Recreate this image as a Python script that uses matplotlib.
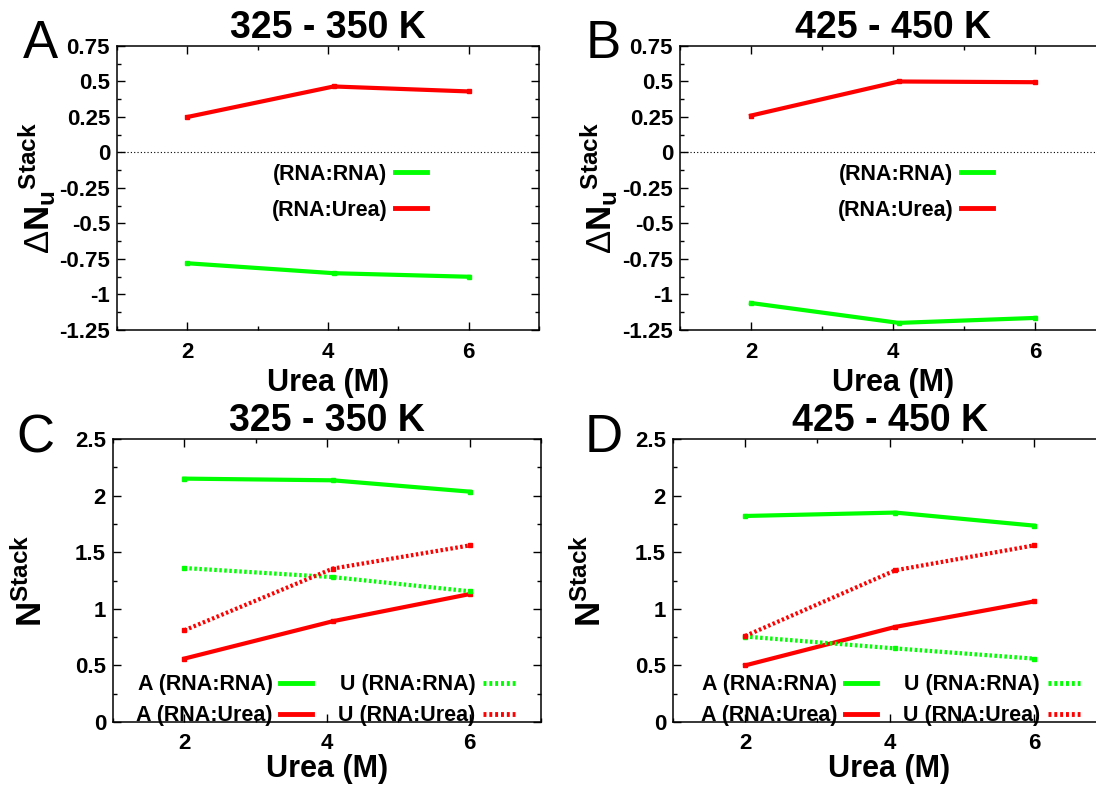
import matplotlib
matplotlib.use("Agg")
import matplotlib.pyplot as plt
from matplotlib.ticker import MultipleLocator

plt.rcParams['font.family'] = ['Liberation Sans', 'DejaVu Sans']
plt.rcParams['font.weight'] = 'bold'
plt.rcParams['axes.labelweight'] = 'bold'
plt.rcParams['axes.titleweight'] = 'bold'
plt.rcParams['mathtext.fontset'] = 'custom'
plt.rcParams['mathtext.rm'] = 'Liberation Sans:weight=normal'
plt.rcParams['mathtext.bf'] = 'Liberation Sans:bold'
plt.rcParams['axes.linewidth'] = 1.1

# Urea concentrations (M)
urea = [2, 4.08, 6]

# Change in stacking number on unfolding
dN_rna_325 = [-0.78, -0.85, -0.875]
dN_urea_325 = [0.25, 0.465, 0.43]
dN_rna_425 = [-1.06, -1.20, -1.165]
dN_urea_425 = [0.26, 0.50, 0.495]

# Stacking numbers per base
A_rna_325 = [2.15, 2.135, 2.035]
A_urea_325 = [0.56, 0.89, 1.13]
U_rna_325 = [1.36, 1.28, 1.155]
U_urea_325 = [0.81, 1.355, 1.56]

A_rna_425 = [1.82, 1.85, 1.735]
A_urea_425 = [0.50, 0.84, 1.065]
U_rna_425 = [0.755, 0.65, 0.56]
U_urea_425 = [0.76, 1.34, 1.56]

titles = ['325 - 350 K', '425 - 450 K']
letters = ['A', 'B', 'C', 'D']

GREEN = '#00ff00'
RED = '#ff0000'
DOT = (0, (0.6, 0.6))

W, H = 1096, 786
fig = plt.figure(figsize=(W / 100, H / 100), dpi=100)


def add_axes(left, right, top, bottom):
    return fig.add_axes([left / W, 1 - bottom / H, (right - left) / W, (bottom - top) / H])


def style(ax, ymajor, yminor, xpad, lpad):
    ax.set_xlim(1, 7)
    ax.xaxis.set_major_locator(MultipleLocator(2))
    ax.xaxis.set_minor_locator(MultipleLocator(1))
    ax.yaxis.set_major_locator(MultipleLocator(ymajor))
    ax.yaxis.set_minor_locator(MultipleLocator(yminor))
    ax.tick_params(which='both', direction='in', top=True, right=True, labelsize=16)
    ax.tick_params(which='major', length=6, width=1)
    ax.tick_params(which='minor', length=3, width=1)
    ax.tick_params(axis='x', pad=xpad)
    ax.tick_params(axis='y', pad=5)
    ax.set_xticks([2, 4, 6])
    ax.set_xticklabels(['2', '4', '6'])
    ax.set_xlabel('Urea (M)', fontsize=22, fontweight='bold', labelpad=lpad)


def fmt(v):
    return f'{v:g}'


def clean_legend(leg):
    # legend samples show plain lines without point markers
    for h in leg.legend_handles:
        h.set_marker('')
        h.set_linewidth(3.5)


axA = add_axes(117, 539, 46, 330)
axB = add_axes(680, 1106, 46, 330)
axC = add_axes(113, 541, 439, 722)
axD = add_axes(673, 1106, 439, 722)

for ax, t, rna, ur in [(axA, titles[0], dN_rna_325, dN_urea_325),
                       (axB, titles[1], dN_rna_425, dN_urea_425)]:
    ax.axhline(0, color='k', lw=0.8, ls=(0, (1, 2)))
    ax.plot(urea, rna, color=GREEN, lw=3, marker='s', ms=3, label='(RNA:RNA)')
    ax.plot(urea, ur, color=RED, lw=3, marker='s', ms=3, label='(RNA:Urea)')
    ax.set_ylim(-1.25, 0.75)
    style(ax, 0.25, 0.125, 9, 3)
    ax.set_yticks([0.75, 0.5, 0.25, 0, -0.25, -0.5, -0.75, -1, -1.25])
    ax.set_yticklabels([fmt(v) for v in ax.get_yticks()])
    ax.set_title(t, fontsize=27, fontweight='bold', pad=2)
    ax.set_ylabel(r'$\Delta\mathbf{{N_u}^{Stack}}$', fontsize=25)
    ax.yaxis.set_label_coords(-0.14, 0.5)
    leg = ax.legend(loc='upper right', bbox_to_anchor=(0.735, 0.585), frameon=False,
                    markerfirst=False, fontsize=15.5, handlelength=1.5, handletextpad=0.35,
                    labelspacing=0.7, borderpad=0, borderaxespad=0)
    clean_legend(leg)

for ax, t, arna, aur, urna, uur in [(axC, titles[0], A_rna_325, A_urea_325, U_rna_325, U_urea_325),
                                    (axD, titles[1], A_rna_425, A_urea_425, U_rna_425, U_urea_425)]:
    l1, = ax.plot(urea, arna, color=GREEN, lw=3, marker='s', ms=3, label='A (RNA:RNA)')
    l2, = ax.plot(urea, aur, color=RED, lw=3, marker='s', ms=3, label='A (RNA:Urea)')
    l3, = ax.plot(urea, urna, color=GREEN, lw=3, ls=DOT, marker='s', ms=3, label='U (RNA:RNA)')
    l4, = ax.plot(urea, uur, color=RED, lw=3, ls=DOT, marker='s', ms=3, label='U (RNA:Urea)')
    ax.set_ylim(0, 2.5)
    style(ax, 0.5, 0.25, 8, 0)
    ax.set_yticks([0, 0.5, 1, 1.5, 2, 2.5])
    ax.set_yticklabels([fmt(v) for v in ax.get_yticks()])
    ax.set_title(t, fontsize=27, fontweight='bold', pad=2)
    ax.set_ylabel(r'$\mathbf{N^{Stack}}$', fontsize=25)
    ax.yaxis.set_label_coords(-0.15, 0.5)
    leg = ax.legend(handles=[l1, l2, l3, l4], ncol=2, loc='upper right',
                    bbox_to_anchor=(0.94, 0.168), frameon=False, markerfirst=False,
                    fontsize=15.5, handlelength=1.5, handletextpad=0.35, columnspacing=1.2,
                    labelspacing=0.45, borderpad=0, borderaxespad=0)
    clean_legend(leg)

for (x, y), letter in zip([(40, 44), (603, 44), (35, 438), (604, 438)], letters):
    fig.text(x / W, 1 - y / H, letter, fontsize=38, fontweight='normal',
             ha='center', va='center')

fig.savefig('out.png', dpi=100)
